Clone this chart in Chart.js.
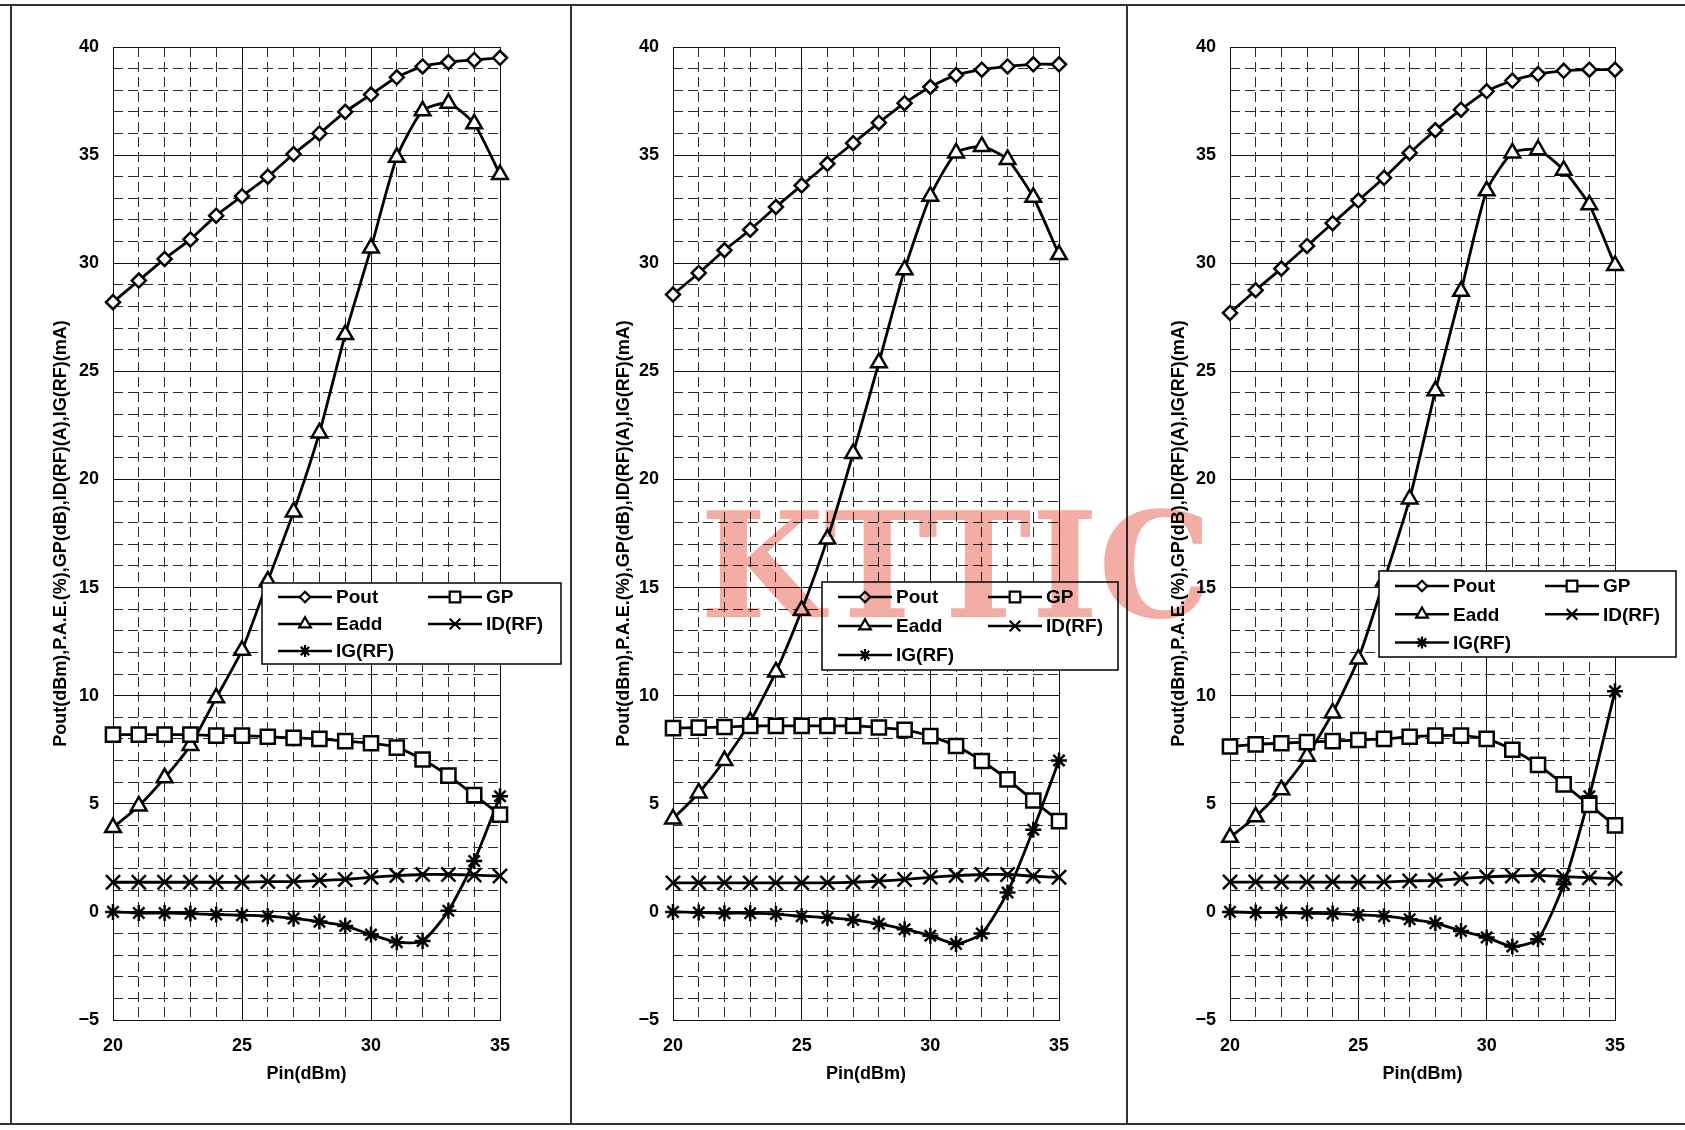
<!DOCTYPE html>
<html>
<head>
<meta charset="utf-8">
<script src="https://cdn.jsdelivr.net/npm/chart.js@4.4.1/dist/chart.umd.min.js"></script>
<style>
  html, body { margin: 0; padding: 0; background: #fff; }
  body { width: 1685px; height: 1130px; position: relative; overflow: hidden; }
  canvas.panel { position: absolute; top: 0; }
  .rule { position: absolute; background: #333; }
  #wm { position: absolute; left: 0; top: 0; mix-blend-mode: multiply; pointer-events: none; }
</style>
</head>
<body>
<div class="rule" style="left:0;top:4px;width:1685px;height:2px"></div>
<div class="rule" style="left:0;top:1123px;width:1685px;height:2px"></div>
<div class="rule" style="left:10px;top:5px;width:2px;height:1119px"></div>
<div class="rule" style="left:570px;top:5px;width:2px;height:1119px"></div>
<div class="rule" style="left:1126px;top:5px;width:2px;height:1119px"></div>

<canvas class="panel" id="c1" width="560" height="1118" style="left:11px;top:6px"></canvas>
<canvas class="panel" id="c2" width="554" height="1118" style="left:572px;top:6px"></canvas>
<canvas class="panel" id="c3" width="557" height="1118" style="left:1128px;top:6px"></canvas>
<canvas id="wm" width="1685" height="1130"></canvas>

<script>
// Pin (dBm) sweep
const pin = [20, 21, 22, 23, 24, 25, 26, 27, 28, 29, 30, 31, 32, 33, 34, 35];

// left panel
const pout1 = [28.2, 29.2, 30.2, 31.1, 32.2, 33.1, 34.0, 35.05, 36.0, 37.0, 37.8, 38.6, 39.1, 39.3, 39.4, 39.5];
const gp1   = [8.2, 8.2, 8.2, 8.2, 8.15, 8.15, 8.1, 8.05, 8.0, 7.9, 7.8, 7.6, 7.05, 6.3, 5.4, 4.5];
const eadd1 = [3.9, 4.9, 6.2, 7.7, 9.9, 12.1, 15.3, 18.5, 22.15, 26.7, 30.7, 34.9, 37.05, 37.4, 36.45, 34.1];
const id1   = [1.37, 1.37, 1.37, 1.37, 1.37, 1.37, 1.4, 1.4, 1.45, 1.5, 1.6, 1.68, 1.73, 1.73, 1.7, 1.66];
const ig1   = [0, -0.05, -0.05, -0.08, -0.12, -0.15, -0.2, -0.3, -0.45, -0.65, -1.05, -1.4, -1.35, 0.05, 2.35, 5.35];

// middle panel
const pout2 = [28.55, 29.55, 30.6, 31.55, 32.6, 33.6, 34.6, 35.55, 36.5, 37.4, 38.15, 38.7, 38.95, 39.1, 39.2, 39.2];
const gp2   = [8.5, 8.52, 8.55, 8.6, 8.6, 8.6, 8.6, 8.6, 8.53, 8.42, 8.13, 7.67, 6.98, 6.13, 5.15, 4.2];
const eadd2 = [4.3, 5.5, 7.0, 8.8, 11.1, 13.95, 17.25, 21.2, 25.4, 29.7, 33.1, 35.1, 35.4, 34.8, 33.05, 30.4];
const id2   = [1.34, 1.34, 1.34, 1.34, 1.34, 1.34, 1.34, 1.37, 1.42, 1.5, 1.6, 1.68, 1.73, 1.73, 1.65, 1.6];
const ig2   = [0, -0.03, -0.06, -0.06, -0.1, -0.2, -0.27, -0.37, -0.55, -0.8, -1.1, -1.48, -1.0, 0.9, 3.8, 7.0];

// right panel
const pout3 = [27.7, 28.75, 29.75, 30.8, 31.85, 32.9, 33.95, 35.1, 36.15, 37.1, 37.95, 38.45, 38.75, 38.9, 38.95, 38.95];
const gp3   = [7.65, 7.75, 7.8, 7.85, 7.9, 7.95, 8.0, 8.1, 8.15, 8.15, 8.0, 7.5, 6.8, 5.9, 4.95, 4.0];
const eadd3 = [3.45, 4.4, 5.65, 7.2, 9.2, 11.7, 15.3, 19.1, 24.1, 28.7, 33.35, 35.1, 35.25, 34.3, 32.7, 29.9];
const id3   = [1.38, 1.38, 1.38, 1.38, 1.38, 1.38, 1.38, 1.43, 1.46, 1.54, 1.62, 1.66, 1.69, 1.63, 1.58, 1.54];
const ig3   = [0, -0.03, -0.03, -0.06, -0.08, -0.14, -0.2, -0.34, -0.52, -0.88, -1.18, -1.6, -1.26, 1.28, 5.35, 10.2];

const seriesNames = ['Pout', 'GP', 'Eadd', 'ID(RF)', 'IG(RF)'];
const markers = ['rectRot', 'rect', 'triangle', 'crossRot', 'star'];
const markerSize = [7, 10, 9, 10, 8];
const xTicks = [20, 25, 30, 35];
const yTitle = 'Pout(dBm),P.A.E.(%),GP(dB),ID(RF)(A),IG(RF)(mA)';
const xTitle = 'Pin(dBm)';

const FONT = '"Liberation Sans", Arial, sans-serif';

// draws a marker like the Chart.js point styles, for the boxed legend
function drawMarker(ctx, style, x, y, r) {
  ctx.beginPath();
  if (style === 'rectRot') {
    ctx.moveTo(x - r, y); ctx.lineTo(x, y - r); ctx.lineTo(x + r, y); ctx.lineTo(x, y + r); ctx.closePath();
    ctx.fill(); ctx.stroke();
  } else if (style === 'rect') {
    const s = r * Math.SQRT1_2;
    ctx.rect(x - s, y - s, 2 * s, 2 * s);
    ctx.fill(); ctx.stroke();
  } else if (style === 'triangle') {
    ctx.moveTo(x, y - r); ctx.lineTo(x + 0.866 * r, y + 0.5 * r); ctx.lineTo(x - 0.866 * r, y + 0.5 * r); ctx.closePath();
    ctx.fill(); ctx.stroke();
  } else {
    const d = r * Math.SQRT1_2;
    ctx.moveTo(x - d, y - d); ctx.lineTo(x + d, y + d);
    ctx.moveTo(x + d, y - d); ctx.lineTo(x - d, y + d);
    if (style === 'star') {
      ctx.moveTo(x, y - r); ctx.lineTo(x, y + r);
      ctx.moveTo(x - r, y); ctx.lineTo(x + r, y);
    }
    ctx.stroke();
  }
}

const boxLegend = {
  id: 'boxLegend',
  afterDatasetsDraw(chart, args, o) {
    const ctx = chart.ctx;
    ctx.save();
    ctx.fillStyle = '#fff';
    ctx.strokeStyle = '#000';
    ctx.lineWidth = 1.5;
    ctx.fillRect(o.left, o.top, o.width, o.height);
    ctx.strokeRect(o.left, o.top, o.width, o.height);
    ctx.font = 'bold 19px ' + FONT;
    ctx.textBaseline = 'middle';
    chart.data.datasets.forEach((ds, i) => {
      const col = i % 2, row = Math.floor(i / 2);
      const x = o.left + (col ? 166 : 16);
      const y = o.top + o.first + row * o.step;
      ctx.strokeStyle = '#000';
      ctx.lineWidth = 2.5;
      ctx.beginPath(); ctx.moveTo(x, y); ctx.lineTo(x + 54, y); ctx.stroke();
      ctx.fillStyle = '#fff';
      ctx.lineWidth = 2.2;
      drawMarker(ctx, ds.pointStyle, x + 27, y, ds.pointRadius * 0.75);
      ctx.fillStyle = '#000';
      ctx.fillText(ds.label, x + 58, y + 1);
    });
    ctx.restore();
  }
};

function makePanel(id, series, p) {
  const datasets = series.map((vals, i) => ({
    label: seriesNames[i],
    data: pin.map((x, k) => ({ x: x, y: vals[k] })),
    borderColor: '#000',
    borderWidth: 2.8,
    pointStyle: markers[i],
    pointRadius: markerSize[i],
    pointBorderWidth: 2.5,
    pointBorderColor: '#000',
    pointBackgroundColor: '#fff',
    tension: 0.2,
    clip: false,
    order: i
  }));

  const minorColor = ctx => (ctx.tick && Math.round(ctx.tick.value) % 5 === 0) ? 'rgba(0,0,0,0)' : '#2a2a2a';

  new Chart(document.getElementById(id), {
    type: 'line',
    data: { datasets: datasets },
    options: {
      responsive: false,
      animation: false,
      devicePixelRatio: 1,
      layout: { padding: { left: 0, right: p.right, top: 41, bottom: 0 } },
      plugins: {
        legend: { display: false },
        tooltip: { enabled: false },
        boxLegend: p.legend
      },
      scales: {
        x: {
          type: 'linear', axis: 'x', position: 'bottom', min: 20, max: 35,
          afterBuildTicks: s => { s.ticks = xTicks.map(v => ({ value: v })); },
          ticks: { padding: 15, color: '#000', font: { family: FONT, size: 18, weight: 'bold' } },
          grid: { color: '#111', lineWidth: 1, drawTicks: false },
          border: { display: true, color: '#111', width: 1 },
          title: { display: true, text: xTitle, color: '#000', font: { family: FONT, size: 18, weight: 'bold' }, padding: { top: 0, bottom: 39 } },
          afterFit: s => { s.height = 104; }
        },
        x2: {
          type: 'linear', axis: 'x', position: 'bottom', min: 20, max: 35,
          ticks: { display: false, stepSize: 1 },
          grid: { color: minorColor, lineWidth: 1, drawTicks: false, borderDash: [10, 5] },
          border: { display: false, dash: [10, 5] },
          afterFit: s => { s.height = 0; }
        },
        y: {
          type: 'linear', axis: 'y', position: 'left', min: -5, max: 40,
          ticks: {
            stepSize: 5, padding: 14, color: '#000',
            font: { family: FONT, size: 18, weight: 'bold' },
            callback: v => v < 0 ? '\u2212' + (-v) : String(v)
          },
          grid: { color: '#111', lineWidth: 1, drawTicks: false },
          border: { display: true, color: '#111', width: 1 },
          title: { display: true, text: yTitle, color: '#000', font: { family: FONT, size: 18, weight: 'bold' }, padding: { top: p.titlePad, bottom: 0 } },
          afterFit: s => { s.width = p.axisW; }
        },
        y2: {
          type: 'linear', axis: 'y', position: 'left', min: -5, max: 40,
          ticks: { display: false, stepSize: 1 },
          grid: { color: minorColor, lineWidth: 1, drawTicks: false, borderDash: [10, 5] },
          border: { display: false, dash: [10, 5] },
          afterFit: s => { s.width = 0; }
        }
      }
    },
    plugins: [boxLegend]
  });
}

makePanel('c1', [pout1, gp1, eadd1, id1, ig1], {
  axisW: 102, right: 71, titlePad: 39,
  legend: { left: 251, top: 577, width: 299, height: 81, first: 14, step: 27 }
});
makePanel('c2', [pout2, gp2, eadd2, id2, ig2], {
  axisW: 101, right: 67, titlePad: 41,
  legend: { left: 250, top: 576, width: 296, height: 88, first: 15, step: 29 }
});
makePanel('c3', [pout3, gp3, eadd3, id3, ig3], {
  axisW: 102, right: 70, titlePad: 40,
  legend: { left: 251, top: 565, width: 297, height: 86, first: 15, step: 28.3 }
});

// watermark stamped over the scan
(function () {
  const ctx = document.getElementById('wm').getContext('2d');
  ctx.font = 'bold 146px "DejaVu Serif", "Liberation Serif", serif';
  const w = ctx.measureText('KTTIC').width;
  ctx.save();
  ctx.translate(700, 617);
  ctx.scale(512 / w, 1);
  ctx.fillStyle = '#f3ada5';
  ctx.fillText('KTTIC', 0, 0);
  ctx.restore();
})();
</script>
</body>
</html>
